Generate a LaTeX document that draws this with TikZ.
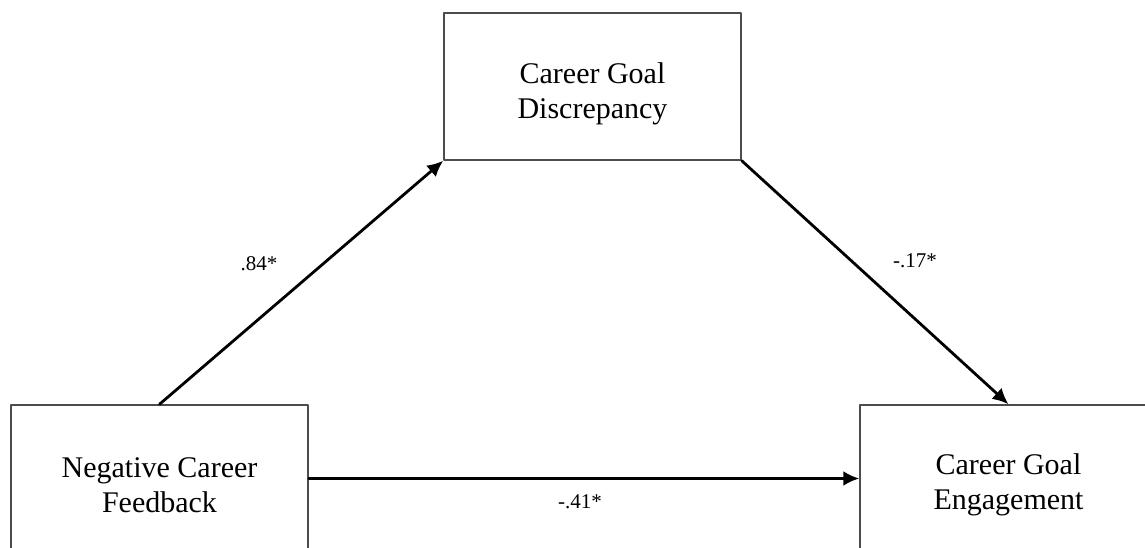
\documentclass[tikz,border=0pt]{standalone}
\usepackage{fontspec}
\setmainfont{Liberation Serif}
\usetikzlibrary{arrows.meta}

\begin{document}
\begin{tikzpicture}[x=0.5pt,y=-0.5pt,line cap=round,line join=round,
		varbox/.style={draw=black!70, line width=0.75pt, rectangle, minimum width=148.5pt, minimum height=73.5pt, align=center, font=\fontsize{15}{17.5}\selectfont},
		path/.style={-{Latex[length=8pt,width=7.5pt]}, line width=1.4pt},
		coef/.style={font=\fontsize{10.5}{12}\selectfont}]
			\useasboundingbox (0,0) rectangle (1145,547);
			
			\node[varbox] (disc) at (592.5,86.5) {\rule{0pt}{18pt}Career Goal\\Discrepancy};
			\node[varbox] (feed) at (159.5,478.5) {\rule{0pt}{17pt}Negative Career\\Feedback};
			\node[varbox] (eng) at (1008.5,478.5) {\rule{0pt}{17pt}Career Goal\\Engagement};
			
			\draw[path] (feed.north) -- (disc.south west);
			\draw[path] (disc.south east) -- (eng.north);
			\draw[path] (feed.east) -- (eng.west);
			
			\node[coef] (a) at (259,264) {.84*};
			\node[coef] (b) at (915,261) {-.17*};
			\node[coef] (c) at (580,502) {-.41*};
		\end{tikzpicture}
\end{document}
